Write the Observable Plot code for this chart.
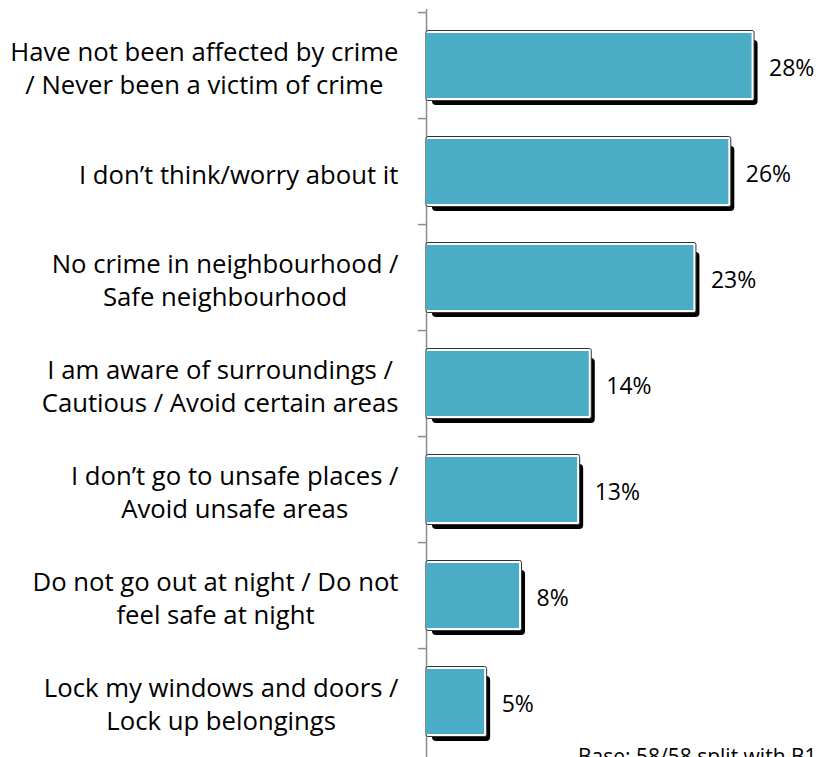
<!DOCTYPE html>
<html>
<head>
<meta charset="utf-8">
<script src="https://cdn.jsdelivr.net/npm/d3@7"></script>
<script src="https://cdn.jsdelivr.net/npm/@observablehq/plot@0.6"></script>
<style>
  html, body { margin: 0; padding: 0; background: #fff; overflow: hidden; }
  #wrap { position: relative; width: 819px; height: 757px; }
  #base { position: absolute; left: 578px; top: 742px; font-family: "Open Sans", sans-serif; font-size: 21px; color: #000; white-space: nowrap; }
</style>
</head>
<body>
<div id="wrap">
  <div id="chart"></div>
  <div id="base">Base: 58/58 split with B1</div>
</div>
<script>
const categories = [
  "Have not been affected by crime\n/ Never been a victim of crime",
  "I don\u2019t think/worry about it",
  "No crime in neighbourhood /\nSafe neighbourhood",
  "I am aware of surroundings /\nCautious / Avoid certain areas",
  "I don\u2019t go to unsafe places /\nAvoid unsafe areas",
  "Do not go out at night / Do not\nfeel safe at night",
  "Lock my windows and doors /\nLock up belongings"
];
const values = [28, 26, 23, 14, 13, 8, 5];
const data = categories.map((c, i) => ({category: c, value: values[i]}));

const W = 819, H = 757, mTop = 9, mBottom = 0, mLeft = 426, mRight = 0;
const step = (H - mTop - mBottom) / categories.length;
const font = "'Open Sans', sans-serif";
const labelSize = 25.7;
const labelGap = 28;
const blue = "#4BACC6";

// measure each label block so its lines can be centred inside a right-aligned block
const ctx = document.createElement("canvas").getContext("2d");
ctx.font = `${labelSize}px 'Open Sans'`;
const blockWidth = c => d3.max(c.split("\n"), s => ctx.measureText(s).width);

const labelMarks = categories.map(c =>
  Plot.text([c], {y: d => d, x: 0, text: d => d, textAnchor: "middle",
    dx: -labelGap - blockWidth(c) / 2, dy: 1, fontSize: labelSize, lineHeight: 1.29, fill: "#000"})
);

const chart = Plot.plot({
  width: W,
  height: H,
  marginTop: mTop,
  marginBottom: mBottom,
  marginLeft: mLeft,
  marginRight: mRight,
  style: {fontFamily: font, background: "#fff", overflow: "hidden"},
  x: {domain: [0, 33.8], axis: null},
  y: {domain: categories, paddingInner: 0.39, paddingOuter: 0.195, axis: null},
  marks: [
    Plot.ruleX([0], {stroke: "#8c8c8c", strokeWidth: 1.5}),
    Plot.ruleY(categories, {y: d => d, x1: -0.7, x2: 0, dy: -step / 2, stroke: "#8c8c8c", strokeWidth: 1.5}),
    Plot.barX(data, {y: "category", x: "value", fill: "#000", dx: 6, dy: 7, rx: 4}),
    Plot.barX(data, {y: "category", x: "value", fill: "#fff", stroke: "#333", strokeWidth: 1, insetTop: -2.5, insetBottom: -2.5, insetRight: -2.5, rx: 2}),
    Plot.barX(data, {y: "category", x: "value", fill: blue}),
    Plot.text(data, {y: "category", x: "value", text: d => d.value + "%", textAnchor: "start", dx: 17, dy: 3, fontSize: 23, fill: "#000"}),
    ...labelMarks
  ]
});
document.getElementById("chart").appendChild(chart);
</script>
</body>
</html>
